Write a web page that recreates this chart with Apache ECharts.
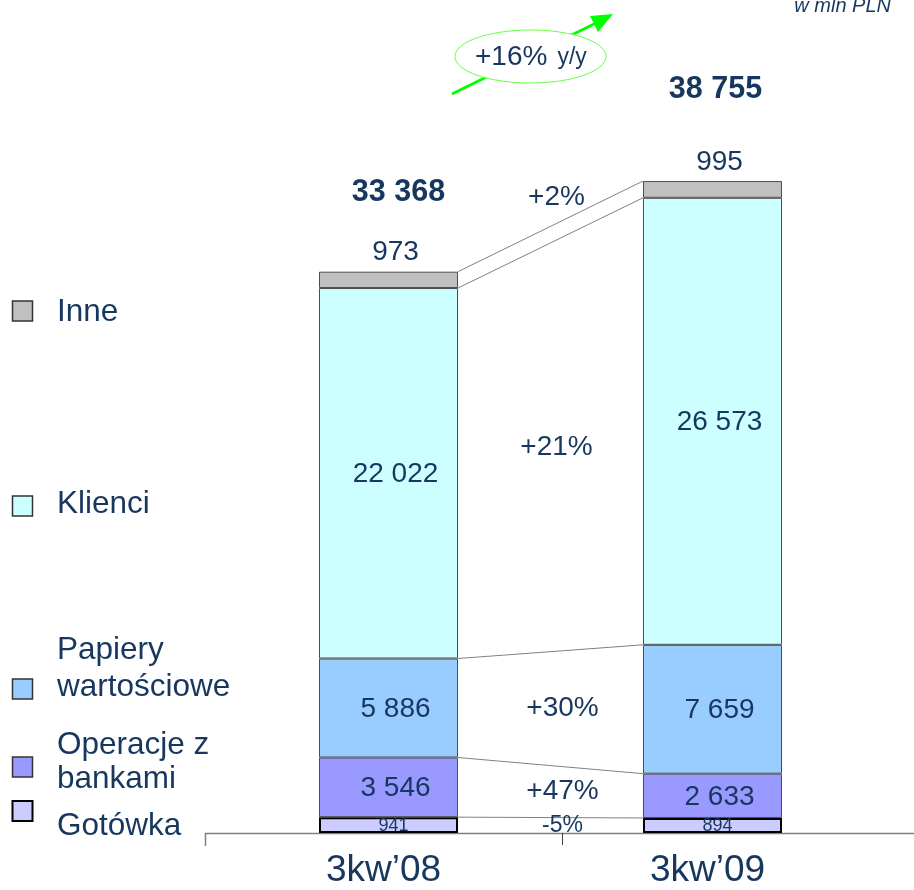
<!DOCTYPE html>
<html>
<head>
<meta charset="utf-8">
<script src="https://cdn.jsdelivr.net/npm/echarts@6/dist/echarts.min.js"></script>
<style>
  html, body { margin: 0; padding: 0; background: #fff; }
  #main { width: 914px; height: 890px; }
</style>
</head>
<body>
<div id="main"></div>
<script>
// dane (w mln PLN)
const categories = ['3kw’08', '3kw’09'];
const gotowka = [941, 894];
const operacje = [3546, 2633];
const papiery = [5886, 7659];
const klienci = [22022, 26573];
const inne = [973, 995];
const totals = [33368, 38755];
// zmiany r/r, w kolejności stosu (od dołu)
const changes = ['-5%', '+47%', '+30%', '+21%', '+2%'];

const NAVY = '#17375e';
const FONT = '"Liberation Sans", Arial, sans-serif';
const BAR_W = 139;

const fmt = v => String(v).replace(/\B(?=(\d{3})+(?!\d))/g, ' ');

const layers = [
  {name: 'Gotówka', data: gotowka, color: '#ccccff', border: '#000', bw: 2, fs: 18},
  {name: 'Operacje z bankami', data: operacje, color: '#9999ff', border: '#4d4d4d', bw: 1, fs: 28},
  {name: 'Papiery wartościowe', data: papiery, color: '#99ccff', border: '#4d4d4d', bw: 1, fs: 28},
  {name: 'Klienci', data: klienci, color: '#ccffff', border: '#4d4d4d', bw: 1, fs: 28},
  {name: 'Inne', data: inne, color: '#c0c0c0', border: '#4d4d4d', bw: 1, fs: 28},
];

// granice segmentów: [x, górna granica słupka 1, słupka 2, środek 1, środek 2]
const bounds = [];
let c0 = 0, c1 = 0;
layers.forEach(l => {
  const m0 = c0 + l.data[0] / 2, m1 = c1 + l.data[1] / 2;
  c0 += l.data[0];
  c1 += l.data[1];
  bounds.push([0, c0, c1, m0, m1]);
});

const barSeries = layers.map((l, i) => ({
  name: l.name,
  type: 'bar',
  stack: 'all',
  barWidth: BAR_W,
  data: l.data,
  itemStyle: {color: l.color, borderColor: l.border, borderWidth: l.bw},
  label: {
    show: true,
    position: i === 4 ? 'top' : 'inside',
    distance: 5,
    offset: i === 4 ? [7, 0] : (i === 0 ? [5, 1] : [7, 1]),
    color: NAVY,
    fontFamily: FONT,
    fontSize: l.fs,
    formatter: p => fmt(p.value),
  },
}));

const totalOffsets = [[10, -64], [3, -76]];

const chart = echarts.init(document.getElementById('main'), null, {renderer: 'canvas'});

// legenda rysowana ręcznie (nierówne odstępy jak w oryginale)
const legendLayout = [
  {text: 'Gotówka', sq: 811, tx: 826, lh: 34},
  {text: 'Operacje z\nbankami', sq: 767, tx: 762, lh: 34},
  {text: 'Papiery\nwartościowe', sq: 689, tx: 669, lh: 37},
  {text: 'Klienci', sq: 506, tx: 504, lh: 34},
  {text: 'Inne', sq: 311, tx: 312, lh: 34},
];
const legendGraphics = [];
legendLayout.forEach((g, i) => {
  legendGraphics.push({
    type: 'rect',
    shape: {x: 12.5, y: g.sq - 10, width: 20, height: 20},
    style: {fill: layers[i].color, stroke: i === 0 ? '#000' : '#333', lineWidth: i === 0 ? 2 : 1.5},
  });
  legendGraphics.push({
    type: 'text',
    x: 57, y: g.tx,
    style: {
      text: g.text, fill: NAVY, font: '31.5px ' + FONT,
      lineHeight: g.lh, verticalAlign: 'middle', align: 'left',
    },
  });
});

const option = {
  animation: false,
  backgroundColor: '#fff',
  grid: {left: 226.5, right: 39.5, top: 76, bottom: 57},
  xAxis: {
    type: 'category',
    data: categories,
    axisLine: {show: false},
    axisTick: {show: false},
    axisLabel: {color: NAVY, fontFamily: FONT, fontSize: 37, margin: 19, padding: [0, 10, 0, 0]},
  },
  yAxis: {type: 'value', min: 0, max: 45000, show: false, splitLine: {show: false}},
  series: [
    ...barSeries,
    {
      name: 'Razem',
      type: 'scatter',
      symbolSize: 0,
      itemStyle: {opacity: 1},
      data: totals.map((v, i) => ({value: v, label: {offset: totalOffsets[i]}})),
      label: {
        show: true,
        position: 'top',
        distance: 0,
        color: NAVY,
        fontFamily: FONT,
        fontWeight: 'bold',
        fontSize: 30.5,
        formatter: p => fmt(p.value),
      },
      z: 5,
    },
    {
      name: 'Zmiany',
      type: 'custom',
      encode: {x: 0, y: [1, 2]},
      data: bounds,
      renderItem: (params, api) => {
        const k = params.dataIndex;
        const p0 = api.coord([0, api.value(1)]);
        const p1 = api.coord([1, api.value(2)]);
        const m0 = api.coord([0, api.value(3)]);
        const m1 = api.coord([1, api.value(4)]);
        const half = BAR_W / 2;
        const tx = (p0[0] + p1[0]) / 2 + (k >= 3 ? 6 : 12);
        const ty = (m0[1] + m1[1]) / 2 + (k === 4 ? -37 : 0);
        return {
          type: 'group',
          children: [
            {
              type: 'line',
              shape: {x1: p0[0] + half, y1: p0[1], x2: p1[0] - half, y2: p1[1]},
              style: {stroke: '#808080', lineWidth: 1},
            },
            {
              type: 'text',
              x: tx, y: ty,
              style: {
                text: changes[k], fill: NAVY,
                font: (k === 0 ? 23 : 28) + 'px ' + FONT,
                align: 'center', verticalAlign: 'middle',
              },
            },
          ],
        };
      },
      z: 3,
    },
  ],
  graphic: [
    // oś pozioma
    {type: 'line', shape: {x1: 205, y1: 833.5, x2: 914, y2: 833.5}, style: {stroke: '#808080', lineWidth: 1.5}},
    {type: 'line', shape: {x1: 205.5, y1: 833, x2: 205.5, y2: 846}, style: {stroke: '#808080', lineWidth: 1.5}},
    {type: 'line', shape: {x1: 562.5, y1: 833, x2: 562.5, y2: 845}, style: {stroke: '#404040', lineWidth: 1}},
    // jednostka
    {
      type: 'text', x: 891, y: 16,
      style: {text: 'w mln PLN', fill: NAVY, font: 'italic 20px ' + FONT, align: 'right', verticalAlign: 'bottom'},
    },
    // strzałka wzrostu
    {type: 'line', shape: {x1: 452, y1: 94, x2: 598, y2: 22}, style: {stroke: '#00ff00', lineWidth: 3}},
    {type: 'polygon', shape: {points: [[613, 14], [598, 32], [590, 16]]}, style: {fill: '#00ff00'}},
    {
      type: 'ellipse', shape: {cx: 530.5, cy: 56.5, rx: 75.5, ry: 26.5},
      style: {fill: '#fff', stroke: '#66ff44', lineWidth: 1}, z: 10,
    },
    {
      type: 'text', x: 475, y: 57, z: 11,
      style: {
        text: '{a|+16%}{b|y/y}', verticalAlign: 'middle', align: 'left',
        rich: {
          a: {fill: NAVY, font: '28px ' + FONT},
          b: {fill: NAVY, font: '23px ' + FONT, padding: [2, 0, 0, 10]},
        },
      },
    },
    ...legendGraphics,
  ],
};

chart.setOption(option);
</script>
</body>
</html>
